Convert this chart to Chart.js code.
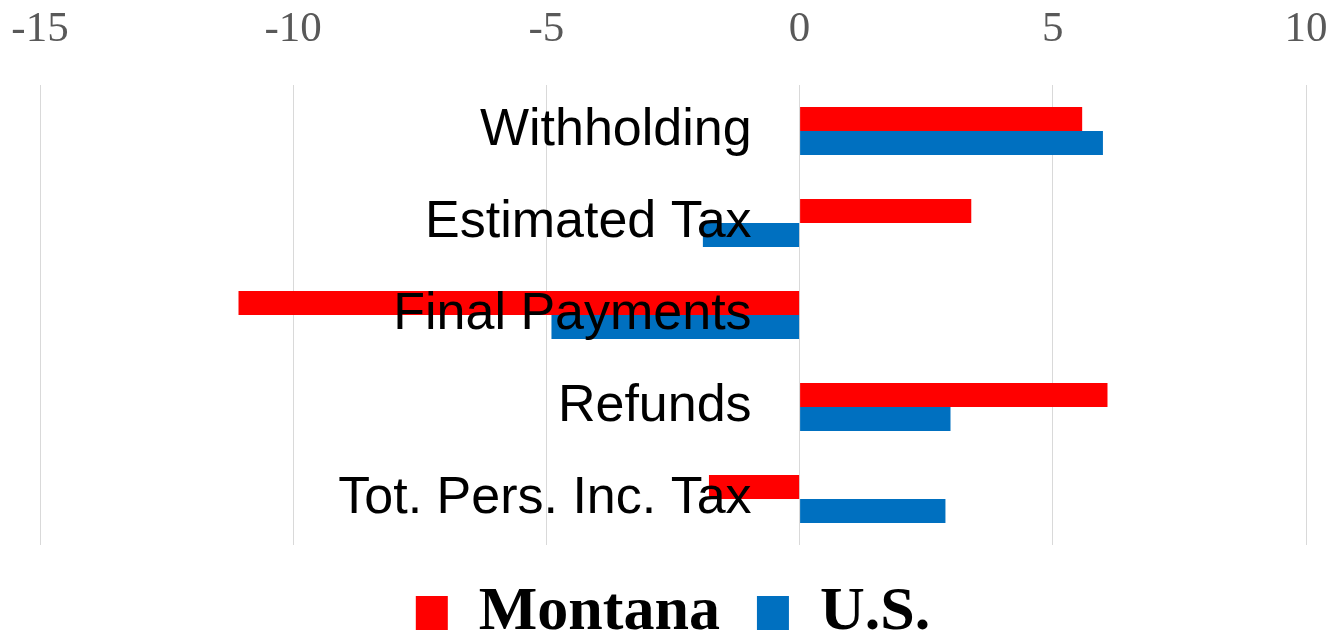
<!DOCTYPE html>
<html>
<head>
<meta charset="utf-8">
<title>Montana vs U.S. tax collections</title>
<script src="https://cdn.jsdelivr.net/npm/chart.js@4.4.1/dist/chart.umd.min.js"></script>
<style>
    html, body { margin: 0; padding: 0; background: #ffffff; }
    #wrap { width: 1333px; height: 632px; }
</style>
</head>
<body>
<div id="wrap"><canvas id="chart"></canvas></div>
<script>
// ------------------ DATA ------------------
const categories = ["Withholding", "Estimated Tax", "Final Payments", "Refunds", "Tot. Pers. Inc. Tax"];
const montanaValues = [5.58, 3.39, -11.08, 6.08, -1.79];
const usValues = [5.99, -1.91, -4.90, 2.98, 2.88];
const xTicks = [-15, -10, -5, 0, 5, 10];

// ------------------ PLUGINS ------------------
// category names sit inside the plot, right-aligned just left of zero
const categoryLabels = {
    id: "categoryLabels",
    afterDatasetsDraw(chart) {
        const { ctx } = chart;
        const xScale = chart.scales.x;
        const yScale = chart.scales.y;
        const right = xScale.getPixelForValue(0) - 48;
        ctx.save();
        ctx.font = "52px 'Liberation Sans', Arial, sans-serif";
        ctx.fillStyle = "#000000";
        ctx.textAlign = "right";
        ctx.textBaseline = "middle";
        categories.forEach((name, i) => {
            ctx.fillText(name, right, yScale.getPixelForValue(i));
        });
        ctx.restore();
    }
};

// ------------------ CHART ------------------
const ctx = document.getElementById("chart").getContext("2d");

new Chart(ctx, {
    type: "bar",
    data: {
        labels: categories,
        datasets: [
            {
                label: "Montana",
                data: montanaValues,
                backgroundColor: "#FF0000",
                categoryPercentage: 0.52,
                barPercentage: 1.0
            },
            {
                label: "U.S.",
                data: usValues,
                backgroundColor: "#0070C0",
                categoryPercentage: 0.52,
                barPercentage: 1.0
            }
        ]
    },
    options: {
        indexAxis: "y",
        responsive: true,
        maintainAspectRatio: false,
        animation: false,
        layout: {
            padding: { top: 0, left: 40, right: 27, bottom: -22 }
        },
        plugins: {
            legend: {
                position: "bottom",
                labels: {
                    color: "#000000",
                    font: { family: "'Liberation Serif', 'Times New Roman', serif", size: 62, weight: "bold" },
                    boxWidth: 32,
                    boxHeight: 34,
                    padding: 37
                }
            },
            tooltip: { enabled: false }
        },
        scales: {
            x: {
                position: "top",
                min: -15,
                max: 10,
                afterBuildTicks: (scale) => {
                    scale.ticks = xTicks.map(v => ({ value: v }));
                },
                afterFit: (scale) => {
                    // fixed band for the top labels, no extra side padding
                    scale.height = 85;
                    scale.paddingLeft = 0;
                    scale.paddingRight = 0;
                },
                grid: { color: "#D9D9D9", lineWidth: 1, drawTicks: false },
                border: { display: false },
                ticks: {
                    color: "#595959",
                    padding: 29,
                    font: { family: "'Liberation Serif', 'Times New Roman', serif", size: 43 }
                }
            },
            y: {
                display: false
            }
        }
    },
    plugins: [categoryLabels]
});
</script>
</body>
</html>
